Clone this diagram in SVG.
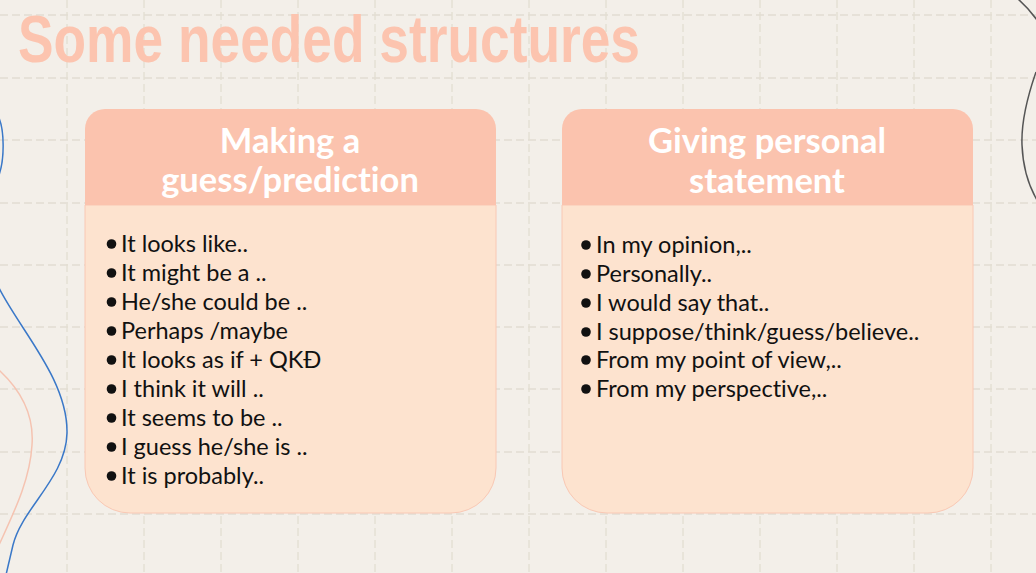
<svg xmlns="http://www.w3.org/2000/svg" width="1036" height="573" viewBox="0 0 1036 573">
<style>
.grid{stroke:#e2ddd2;stroke-width:1.3;stroke-dasharray:8 4;fill:none}
.hdr{fill:#fbc3ae}
.body{fill:#fde3cf;stroke:#f9c8b4;stroke-width:1}
.htxt{font-family:Lato,"Open Sans",sans-serif;font-weight:700;font-size:34.5px;fill:#ffffff;text-anchor:middle;font-variant-ligatures:none}
.item{font-family:Lato,"Open Sans",sans-serif;font-size:23.5px;fill:#111111;font-variant-ligatures:none}
.dot{fill:#111111}
.deco{fill:none;stroke-width:1.5}
</style>
<rect width="1036" height="573" fill="#f3efe9"/>
<g id="grid">
<path class="grid" d="M67,0V573M144,0V573M221,0V573M298,0V573M375,0V573M452,0V573M529,0V573M606,0V573M683,0V573M760,0V573M837,0V573M914,0V573M991,0V573"/>
<path class="grid" d="M0,15H1036M0,78H1036M0,140H1036M0,203H1036M0,265H1036M0,327H1036M0,389H1036M0,452H1036M0,514H1036"/>
</g>
<g id="decorations">
<path class="deco" stroke="#3a78c8" d="M-1,118 C4,130 5,158 -1,175"/>
<path class="deco" stroke="#3a78c8" d="M-1,288 C20,330 68,380 67,433 C66,478 22,508 13,545 C10,558 8,566 6,575"/>
<path class="deco" stroke="#f5c3b1" d="M-1,370 C24,393 34,418 32,445 C30,480 14,512 -1,545"/>
<path class="deco" stroke="#555555" stroke-width="1.2" d="M1018,-1 C1026,6 1032,13 1037,20"/>
<path class="deco" stroke="#555555" stroke-width="1.2" d="M1036,72 C1028,95 1021,120 1022,145 C1023,170 1030,188 1037,200"/>
</g>
<g id="title">
<text x="18" y="62" font-family="'Liberation Sans',Arial,sans-serif" font-weight="700" font-size="66" fill="#fcc4af" textLength="622" lengthAdjust="spacingAndGlyphs">Some needed structures</text>
</g>
<g id="node-guess">
<path class="body" d="M85,205 H496 V468 A45,45 0 0 1 451,513 H130 A45,45 0 0 1 85,468 Z"/>
<path class="hdr" d="M85,205 V129 A20,20 0 0 1 105,109 H476 A20,20 0 0 1 496,129 V205 Z"/>
<text class="htxt" x="290" y="153">Making a</text>
<text class="htxt" x="290" y="192">guess/prediction</text>
<g>
<circle class="dot" cx="111.5" cy="244" r="4.8"/><text class="item" x="121" y="252">It looks like..</text>
<circle class="dot" cx="111.5" cy="273" r="4.8"/><text class="item" x="121" y="281">It might be a ..</text>
<circle class="dot" cx="111.5" cy="302" r="4.8"/><text class="item" x="121" y="310">He/she could be ..</text>
<circle class="dot" cx="111.5" cy="331" r="4.8"/><text class="item" x="121" y="339">Perhaps /maybe</text>
<circle class="dot" cx="111.5" cy="360" r="4.8"/><text class="item" x="121" y="368">It looks as if + QKĐ</text>
<circle class="dot" cx="111.5" cy="389" r="4.8"/><text class="item" x="121" y="397">I think it will ..</text>
<circle class="dot" cx="111.5" cy="418" r="4.8"/><text class="item" x="121" y="426">It seems to be ..</text>
<circle class="dot" cx="111.5" cy="447" r="4.8"/><text class="item" x="121" y="455">I guess he/she is ..</text>
<circle class="dot" cx="111.5" cy="476" r="4.8"/><text class="item" x="121" y="484">It is probably..</text>
</g>
</g>
<g id="node-statement">
<path class="body" d="M562,205 H973 V468 A45,45 0 0 1 928,513 H607 A45,45 0 0 1 562,468 Z"/>
<path class="hdr" d="M562,205 V129 A20,20 0 0 1 582,109 H953 A20,20 0 0 1 973,129 V205 Z"/>
<text class="htxt" x="767" y="153">Giving personal</text>
<text class="htxt" x="767" y="193">statement</text>
<g>
<circle class="dot" cx="586" cy="245" r="4.8"/><text class="item" x="596" y="253">In my opinion,..</text>
<circle class="dot" cx="586" cy="274" r="4.8"/><text class="item" x="596" y="282">Personally..</text>
<circle class="dot" cx="586" cy="303" r="4.8"/><text class="item" x="596" y="311">I would say that..</text>
<circle class="dot" cx="586" cy="332" r="4.8"/><text class="item" x="596" y="340">I suppose/think/guess/believe..</text>
<circle class="dot" cx="586" cy="360" r="4.8"/><text class="item" x="596" y="368">From my point of view,..</text>
<circle class="dot" cx="586" cy="389" r="4.8"/><text class="item" x="596" y="397">From my perspective,..</text>
</g>
</g>
</svg>
